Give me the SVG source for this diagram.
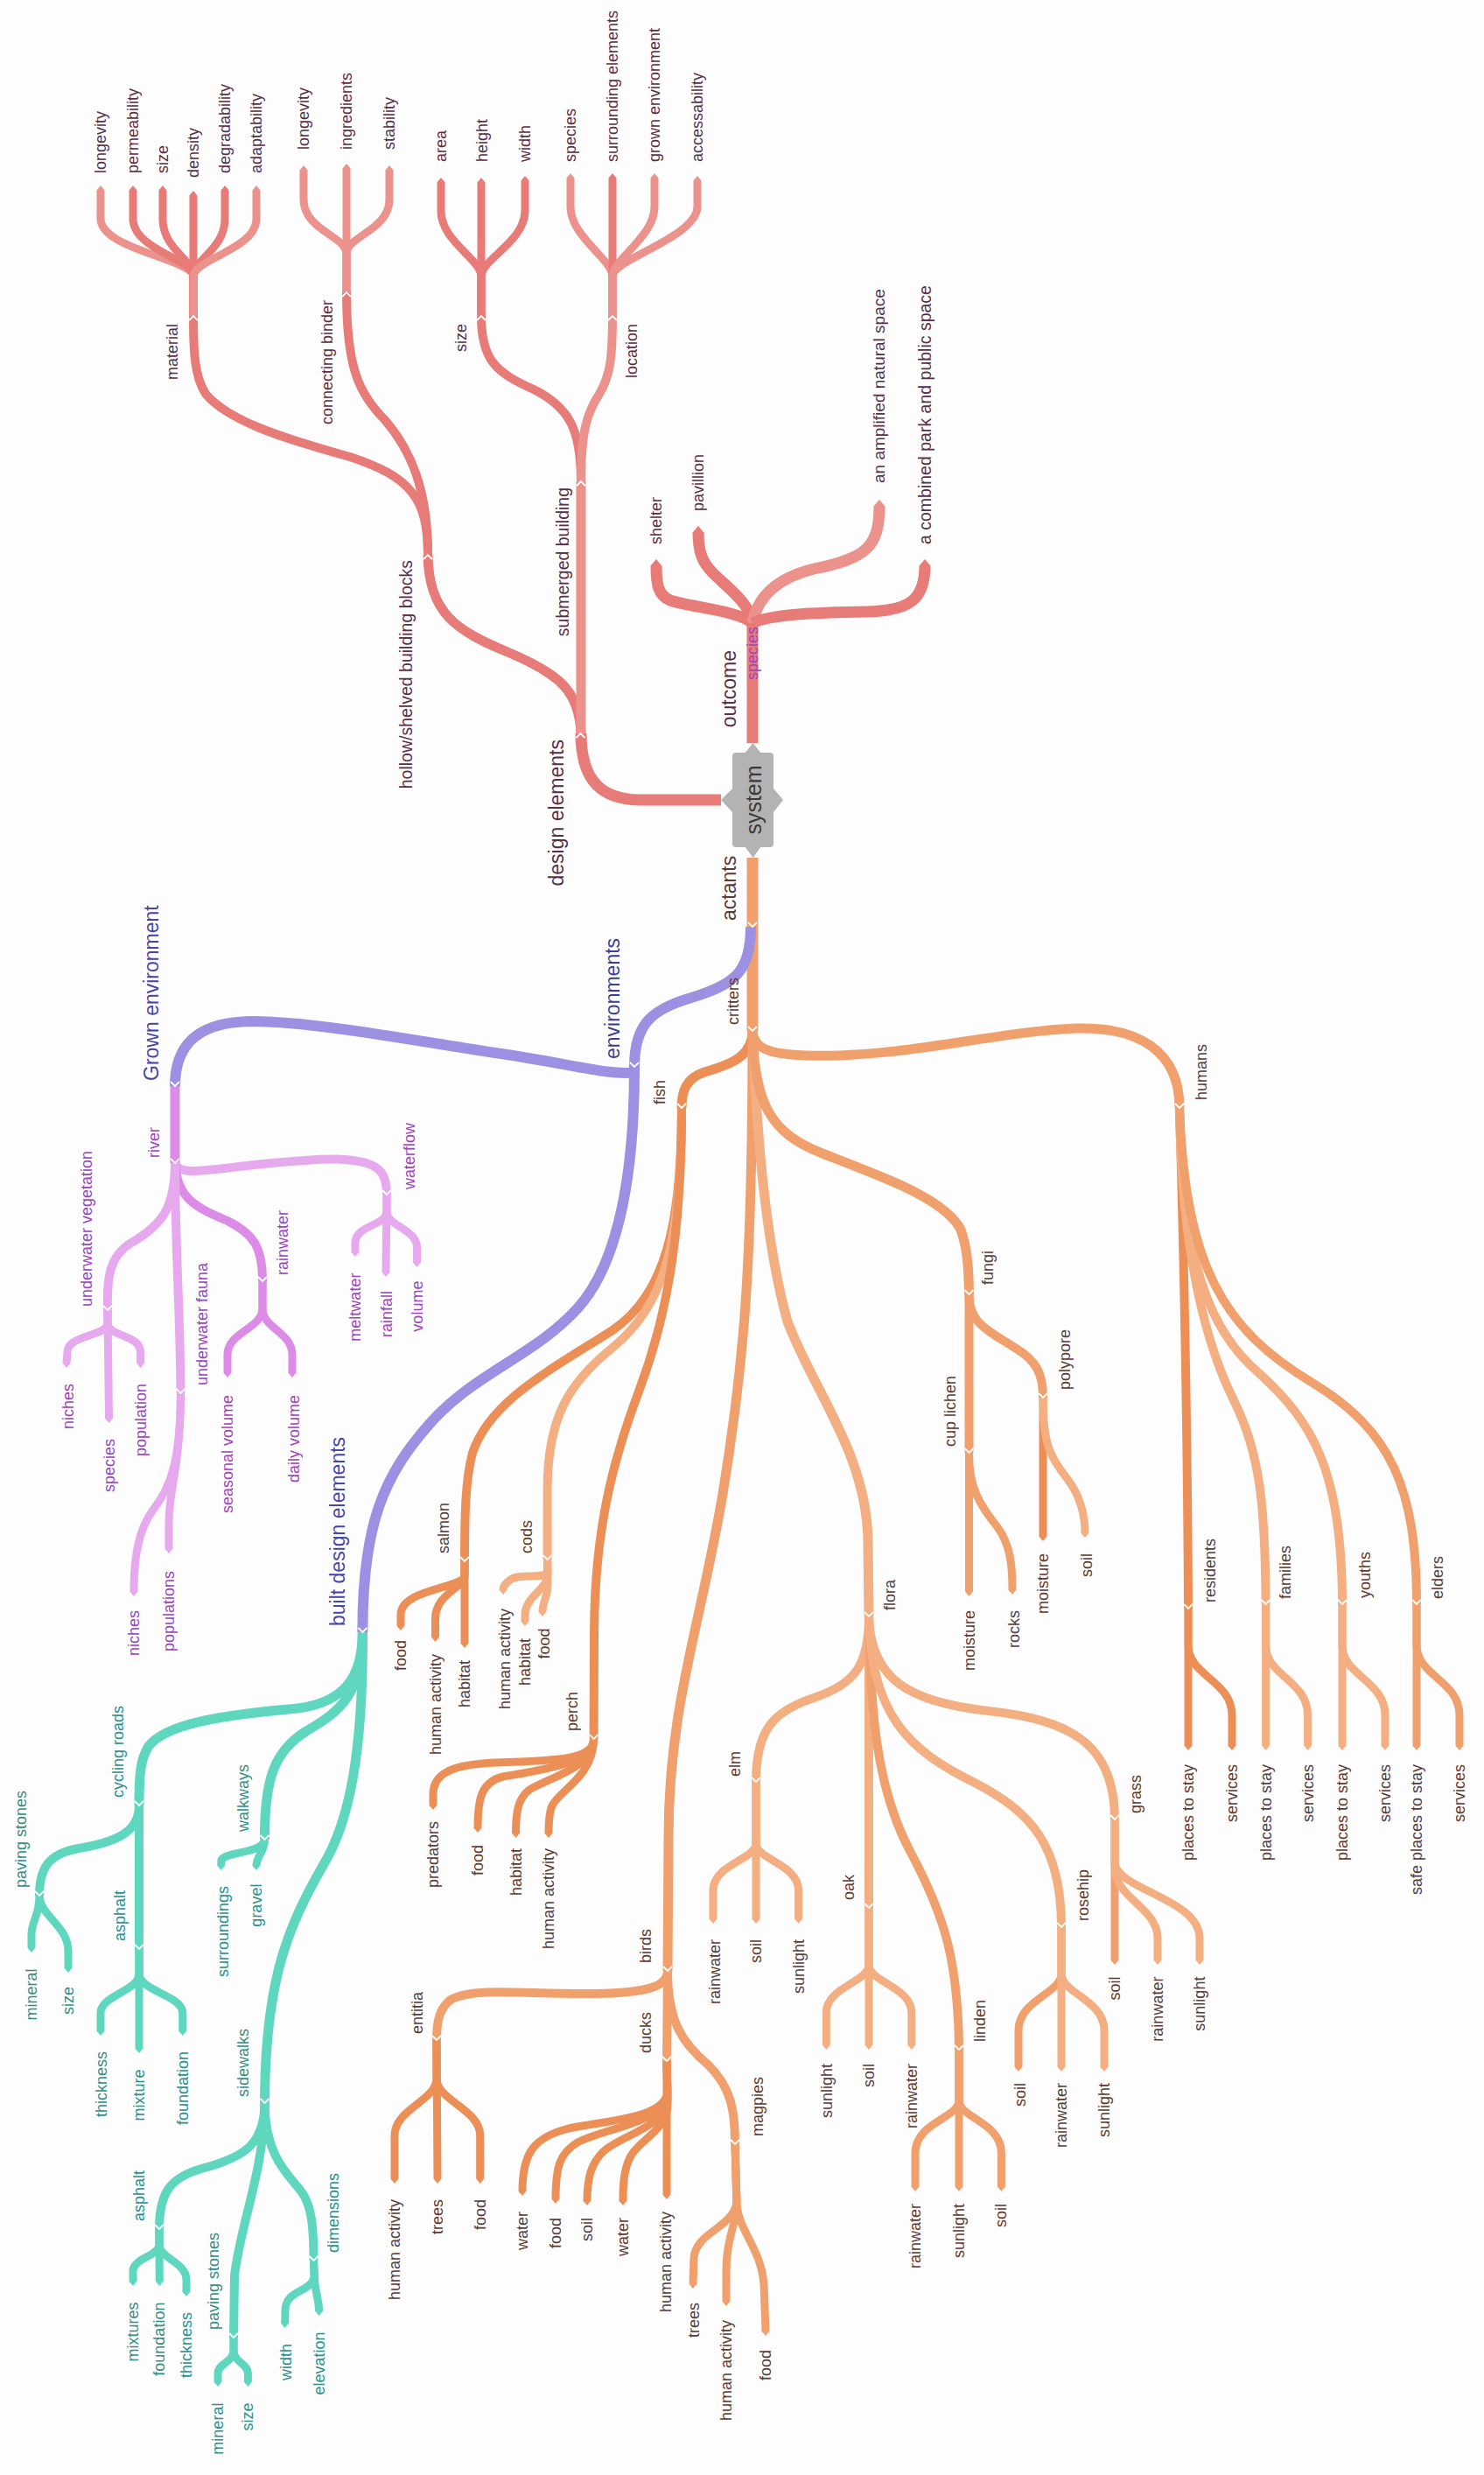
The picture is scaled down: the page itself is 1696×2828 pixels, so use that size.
<svg xmlns="http://www.w3.org/2000/svg" width="1696" height="2828" viewBox="0 0 1696 2828">
<defs>
<marker id="mr1" viewBox="0 -5 6 10" markerWidth="0.6" markerHeight="1" refX="0.5" refY="0" orient="auto"><path d="M0,-5L6,0L0,5Z" fill="#e77b78"/></marker>
<marker id="mr2" viewBox="0 -5 6 10" markerWidth="0.6" markerHeight="1" refX="0.5" refY="0" orient="auto"><path d="M0,-5L6,0L0,5Z" fill="#ec928d"/></marker>
<marker id="mo1" viewBox="0 -5 6 10" markerWidth="0.6" markerHeight="1" refX="0.5" refY="0" orient="auto"><path d="M0,-5L6,0L0,5Z" fill="#eb8f57"/></marker>
<marker id="mo2" viewBox="0 -5 6 10" markerWidth="0.6" markerHeight="1" refX="0.5" refY="0" orient="auto"><path d="M0,-5L6,0L0,5Z" fill="#f0a06c"/></marker>
<marker id="mo3" viewBox="0 -5 6 10" markerWidth="0.6" markerHeight="1" refX="0.5" refY="0" orient="auto"><path d="M0,-5L6,0L0,5Z" fill="#f3ae82"/></marker>
<marker id="mv1" viewBox="0 -5 6 10" markerWidth="0.6" markerHeight="1" refX="0.5" refY="0" orient="auto"><path d="M0,-5L6,0L0,5Z" fill="#dc8ce6"/></marker>
<marker id="mv2" viewBox="0 -5 6 10" markerWidth="0.6" markerHeight="1" refX="0.5" refY="0" orient="auto"><path d="M0,-5L6,0L0,5Z" fill="#e7a9ee"/></marker>
<marker id="mt1" viewBox="0 -5 6 10" markerWidth="0.6" markerHeight="1" refX="0.5" refY="0" orient="auto"><path d="M0,-5L6,0L0,5Z" fill="#5fd7be"/></marker>
</defs>
<style>
.e{fill:none;stroke-linecap:butt;stroke-linejoin:round}
.w13{stroke-width:13}.w12{stroke-width:12}.w11{stroke-width:11}.w10{stroke-width:10}.w9{stroke-width:9}
.r1{stroke:#e77b78}.r2{stroke:#ec928d}.o1{stroke:#eb8f57}.o2{stroke:#f0a06c}.o3{stroke:#f3ae82}
.p1{stroke:#9c90e3}.v1{stroke:#dc8ce6}.v2{stroke:#e7a9ee}.t1{stroke:#5fd7be}
.r1.l{marker-end:url(#mr1)}.r2.l{marker-end:url(#mr2)}.o1.l{marker-end:url(#mo1)}.o2.l{marker-end:url(#mo2)}.o3.l{marker-end:url(#mo3)}
.v1.l{marker-end:url(#mv1)}.v2.l{marker-end:url(#mv2)}.t1.l{marker-end:url(#mt1)}
text{font-family:"Liberation Sans",Arial,sans-serif;font-size:18px;dominant-baseline:central}
.s{text-anchor:start}.n{text-anchor:end}
.big{font-size:23px}.m{font-size:19.5px}
.cr{fill:#5a2f45}.co{fill:#5b3b35}.cv{fill:#9c44bb}.ct{fill:#2f8f88}.cb{fill:#4646a8}.cn{fill:#3f3f92}
.ch{fill:none;stroke:#fff;stroke-width:1.8}
</style>
<rect width="1696" height="2828" fill="#fdfdfd"/>

<g id="connectors">
<!-- red: system upward -->
<path class="e r1 w13" d="M860,849 L860,712"/>
<path class="e r1 w13 l" d="M860,712 C845,698 790,694 766,686 C752,680 750,668 750,646"/>
<path class="e r1 w13 l" d="M860,712 C858,690 830,670 815,655 C802,642 798,630 798,608"/>
<path class="e r2 w13 l" d="M860,712 C866,680 890,660 930,650 C990,638 1005,625 1005,578"/>
<path class="e r1 w13 l" d="M860,712 C880,702 930,700 990,699 C1040,698 1057,685 1057,646"/>
<path class="e r1 w13" d="M824,914 L730,914 C690,913 664,895 664,838"/>
<path class="e r1 w11" d="M664,838 C662,790 640,770 580,745 C520,720 490,700 489,634"/>
<path class="e r2 w11" d="M664,838 L664,550"/>
<path class="e r1 w10" d="M489,634 C489,570 470,545 400,522 C320,500 260,480 235,450 C222,430 221,400 221,361"/>
<path class="e r1 w10" d="M489,634 C489,560 470,515 440,480 C410,450 396,420 396,334"/>
<path class="e r1 w10" d="M664,550 C664,490 650,465 610,445 C565,425 550,410 550,361"/>
<path class="e r2 w10" d="M664,550 C664,490 672,470 685,450 C697,430 700,410 700,361"/>
<path class="e r2 w9 l" d="M221,361 L221,316 C221,296 115,285 115,250 L115,217"/>
<path class="e r1 w9 l" d="M221,361 L221,316 C221,296 152,285 152,250 L152,217"/>
<path class="e r1 w9 l" d="M221,361 L221,316 C221,296 186,285 186,250 L186,217"/>
<path class="e r1 w9 l" d="M221,361 L221,223"/>
<path class="e r1 w9 l" d="M221,361 L221,316 C221,296 257,285 257,250 L257,217"/>
<path class="e r2 w9 l" d="M221,361 L221,316 C221,296 293,285 293,250 L293,217"/>
<path class="e r2 w9 l" d="M396,334 L396,290 C396,270 347,263 347,228 L347,194"/>
<path class="e r2 w9 l" d="M396,334 L396,192"/>
<path class="e r2 w9 l" d="M396,334 L396,290 C396,270 445,263 445,228 L445,194"/>
<path class="e r1 w9 l" d="M550,361 L550,316 C550,296 504,276 504,241 L504,208"/>
<path class="e r1 w9 l" d="M550,361 L550,208"/>
<path class="e r1 w9 l" d="M550,361 L550,316 C550,296 600,276 600,241 L600,206"/>
<path class="e r2 w9 l" d="M700,361 L700,316 C700,296 652,271 652,236 L652,203"/>
<path class="e r1 w9 l" d="M700,361 L700,203"/>
<path class="e r2 w9 l" d="M700,361 L700,316 C700,296 748,271 748,236 L748,203"/>
<path class="e r2 w9 l" d="M700,361 L700,316 C700,296 797,271 797,236 L797,206"/>
<!-- orange trunk -->
<path class="e o2 w13" d="M860,980 L860,1178"/>
<path class="e p1 w12" d="M858,1059 C858,1110 840,1125 790,1140 C745,1153 725,1170 725,1219"/>
<path class="e o1 w11" d="M860,1178 C860,1205 840,1215 805,1225 C785,1232 779,1245 779,1266"/>
<path class="e o2 w11" d="M860,1178 C862,1200 880,1208 960,1206 C1050,1203 1150,1178 1230,1175 C1300,1173 1348,1200 1348,1266"/>
<path class="e o2 w11" d="M860,1178 C860,1450 850,1560 826,1707 C800,1860 764,1950 764,2100 L763,2252"/>
<path class="e o3 w11" d="M860,1178 C865,1300 875,1420 900,1510 C930,1590 990,1660 992,1760 L993,1847"/>
<path class="e o2 w11" d="M860,1178 C862,1260 880,1295 940,1318 C1010,1345 1080,1370 1098,1405 C1105,1425 1107,1445 1107.5,1479"/>
<!-- fish -->
<path class="e o1 w10" d="M779,1266 C779,1400 760,1480 700,1520 C630,1565 560,1600 540,1660 C532,1690 531,1730 531,1784"/>
<path class="e o3 w10" d="M779,1266 C779,1420 760,1490 700,1540 C650,1580 626,1620 625.6,1700 L625.6,1782"/>
<path class="e o1 w10" d="M779,1266 C779,1420 760,1510 730,1590 C700,1670 679,1750 679,1870 L678.6,1987"/>
<path class="e o1 w9 l" d="M531,1784 L531,1800 C531,1815 458,1815 458,1845 L458,1858"/>
<path class="e o1 w9 l" d="M531,1784 L531,1800 C531,1815 497.5,1820 497.5,1850 L497.5,1871"/>
<path class="e o1 w9 l" d="M531,1784 L531,1878"/>
<path class="e o3 w9 l" d="M625.6,1782 L626,1795 C624,1806 592,1796 582,1806 C576,1811 575,1813 575,1817"/>
<path class="e o3 w9 l" d="M625.6,1782 L626,1800 C626,1815 600,1825 600,1845 L600,1853"/>
<path class="e o3 w9 l" d="M625.6,1782 L626,1810 C626,1825 620,1830 620,1842"/>
<path class="e o1 w9 l" d="M678.6,1987 C678,2010 640,2012 566,2014 C520,2016 495,2025 495,2050 L495,2063"/>
<path class="e o1 w9 l" d="M678.6,1987 C678,2015 620,2022 575,2030 C550,2036 546,2055 546,2089"/>
<path class="e o1 w9 l" d="M678.6,1987 C678,2020 630,2030 605,2045 C592,2055 589.5,2070 589.5,2095"/>
<path class="e o1 w9 l" d="M678.6,1987 C678,2030 640,2045 631,2063 C627,2072 627,2085 627,2095"/>
<!-- fungi -->
<path class="e o2 w10" d="M1107.5,1479 L1107.5,1660"/>
<path class="e o2 w10" d="M1107.5,1479 C1107,1510 1125,1518 1160,1540 C1185,1555 1192,1570 1192,1597"/>
<path class="e o2 w9 l" d="M1107.5,1660 L1107.5,1819"/>
<path class="e o2 w9 l" d="M1107.5,1660 C1107,1700 1120,1720 1140,1745 C1155,1765 1157,1790 1157,1817"/>
<path class="e o1 w9 l" d="M1192,1597 L1192,1756"/>
<path class="e o3 w9 l" d="M1192,1597 C1192,1650 1200,1665 1220,1690 C1235,1710 1240,1730 1240,1752"/>
<!-- flora -->
<path class="e o3 w10" d="M993,1847 C993,1905 975,1925 930,1940 C885,1955 864,1975 864,2036"/>
<path class="e o3 w10" d="M993,1847 L993,2180"/>
<path class="e o2 w10" d="M993,1847 C995,1950 1000,2040 1040,2115 C1080,2190 1095,2240 1096,2342"/>
<path class="e o3 w10" d="M993,1847 C995,1960 1040,2000 1110,2035 C1180,2070 1213,2110 1213,2202"/>
<path class="e o3 w10" d="M993,1847 C995,1920 1040,1945 1130,1955 C1220,1965 1274,1990 1274,2079"/>
<path class="e o3 w9 l" d="M864,2036 L864,2106 C864,2125 815,2130 815,2160 L815,2193"/>
<path class="e o3 w9 l" d="M864,2036 L864,2193"/>
<path class="e o3 w9 l" d="M864,2036 L864,2106 C864,2125 912.6,2130 912.6,2160 L912.6,2193"/>
<path class="e o3 w9 l" d="M993,2180 L993,2245 C993,2265 944.3,2270 944.3,2300 L944.3,2337"/>
<path class="e o3 w9 l" d="M993,2180 L993,2337"/>
<path class="e o3 w9 l" d="M993,2180 L993,2245 C993,2265 1041.8,2270 1041.8,2300 L1041.8,2337"/>
<path class="e o2 w9 l" d="M1096,2342 L1096,2400 C1096,2420 1046,2425 1046,2460 L1046,2499"/>
<path class="e o2 w9 l" d="M1096,2342 L1096,2499"/>
<path class="e o2 w9 l" d="M1096,2342 L1096,2400 C1096,2420 1144.4,2425 1144.4,2460 L1144.4,2499"/>
<path class="e o2 w9 l" d="M1213,2202 L1213,2255 C1213,2278 1164,2285 1164,2320 L1164,2362"/>
<path class="e o3 w9 l" d="M1213,2202 L1213,2362"/>
<path class="e o3 w9 l" d="M1213,2202 L1213,2255 C1213,2278 1262,2285 1262,2320 L1262,2362"/>
<path class="e o2 w9 l" d="M1274,2079 L1274,2240"/>
<path class="e o3 w9 l" d="M1274,2079 L1274,2135 C1276,2170 1323,2180 1323,2215 L1323,2240"/>
<path class="e o3 w9 l" d="M1274,2079 L1274,2130 C1280,2160 1371,2170 1371,2215 L1371,2240"/>
<!-- humans -->
<path class="e o1 w10" d="M1348,1266 C1352,1400 1357,1600 1358,1838"/>
<path class="e o3 w10" d="M1348,1266 C1350,1420 1375,1530 1410,1600 C1440,1660 1446,1720 1446.6,1833"/>
<path class="e o3 w10" d="M1348,1266 C1352,1440 1380,1520 1440,1570 C1500,1625 1534,1680 1534,1833"/>
<path class="e o2 w10" d="M1348,1266 C1355,1450 1400,1520 1500,1580 C1590,1635 1619,1700 1619,1833"/>
<path class="e o1 w9 l" d="M1358,1838 L1358,1995"/>
<path class="e o1 w9 l" d="M1358,1838 L1358,1880 C1358,1915 1408,1920 1408,1960 L1408,1995"/>
<path class="e o3 w9 l" d="M1446.6,1833 L1446.6,1995"/>
<path class="e o3 w9 l" d="M1446.6,1833 L1446.6,1880 C1446.6,1915 1494.6,1920 1494.6,1960 L1494.6,1995"/>
<path class="e o3 w9 l" d="M1534,1833 L1534,1995"/>
<path class="e o3 w9 l" d="M1534,1833 L1534,1880 C1534,1915 1583,1920 1583,1960 L1583,1995"/>
<path class="e o2 w9 l" d="M1619,1833 L1619,1995"/>
<path class="e o2 w9 l" d="M1619,1833 L1619,1880 C1619,1915 1668,1920 1668,1960 L1668,1995"/>
<!-- birds -->
<path class="e o2 w10" d="M763,2252 C763,2270 740,2277 680,2278 C600,2279 540,2270 515,2285 C502,2295 499,2310 499,2331"/>
<path class="e o2 w10" d="M763,2252 L762,2355"/>
<path class="e o2 w10" d="M763,2252 C763,2310 780,2335 810,2360 C835,2385 840,2410 840,2450"/>
<path class="e o1 w9 l" d="M499,2331 L499,2375 C499,2400 451,2410 451,2440 L451,2490"/>
<path class="e o1 w9 l" d="M499,2331 L500,2490"/>
<path class="e o1 w9 l" d="M499,2331 L499,2375 C499,2400 548.7,2410 548.7,2440 L548.7,2490"/>
<path class="e o1 w9 l" d="M762,2355 L763,2390 C760,2420 700,2422 650,2432 C610,2442 597,2460 597,2504"/>
<path class="e o1 w9 l" d="M762,2355 L763,2395 C758,2425 690,2432 660,2448 C640,2460 635,2475 635,2513"/>
<path class="e o1 w9 l" d="M762,2355 L763,2400 C760,2430 710,2440 690,2458 C675,2472 671,2490 671,2515"/>
<path class="e o1 w9 l" d="M762,2355 L763,2405 C762,2435 730,2445 720,2465 C713,2480 712,2495 712,2515"/>
<path class="e o1 w9 l" d="M762,2355 L762,2508"/>
<path class="e o2 w9 l" d="M840,2450 L842,2515 C840,2545 795,2550 793,2580 L792,2610"/>
<path class="e o2 w9 l" d="M840,2450 L842,2520 C840,2545 830,2560 830,2595 L830,2630"/>
<path class="e o2 w9 l" d="M840,2450 L842,2520 C845,2550 870,2570 873,2610 L875,2664"/>
<!-- environments -->
<path class="e p1 w12" d="M725,1225 C700,1230 650,1215 566,1203 C450,1185 360,1168 290,1167 C230,1167 200,1190 200,1241"/>
<path class="e p1 w12" d="M725,1219 C725,1330 710,1440 660,1495 C610,1550 540,1570 490,1628 C440,1685 414,1740 414.4,1865"/>
<path class="e v1 w11" d="M200,1241 L200,1329"/>
<path class="e v2 w10" d="M200,1329 C205,1345 240,1336 300,1330 C360,1324 420,1318 436,1340 C441,1347 442,1355 442,1365"/>
<path class="e v1 w10" d="M200,1329 C202,1370 225,1380 260,1395 C290,1410 300,1425 300,1464"/>
<path class="e v2 w10" d="M200,1329 C200,1420 206,1500 206.5,1592"/>
<path class="e v2 w10" d="M200,1329 C200,1380 185,1400 150,1420 C125,1435 122,1460 123,1497"/>
<path class="e v2 w9 l" d="M442,1365 L442,1385 C442,1400 406,1400 406,1420 L406,1431"/>
<path class="e v2 w9 l" d="M442,1365 L441,1454"/>
<path class="e v2 w9 l" d="M442,1365 L442,1385 C442,1400 476.5,1405 476.5,1425 L476.5,1443"/>
<path class="e v1 w9 l" d="M300,1464 L300,1495 C300,1518 260,1522 260,1548 L260,1569"/>
<path class="e v1 w9 l" d="M300,1464 L300,1495 C300,1518 334,1522 334,1548 L334,1569"/>
<path class="e v2 w9 l" d="M206.5,1592 C206,1680 193,1700 193,1740 L193,1770"/>
<path class="e v2 w9 l" d="M206.5,1592 C206,1670 195,1700 175,1725 C158,1748 153,1780 153,1819"/>
<path class="e v2 w9 l" d="M123,1497 L123,1512 C123,1527 77,1525 77,1545 L76,1558"/>
<path class="e v2 w9 l" d="M123,1497 L124.5,1621"/>
<path class="e v2 w9 l" d="M123,1497 L123,1512 C123,1527 160.6,1525 160.6,1545 L160.6,1558"/>
<!-- built -->
<path class="e t1 w11" d="M414.4,1865 C414,1915 395,1945 340,1952 C250,1960 190,1970 170,1995 C160,2010 159,2030 159,2063"/>
<path class="e t1 w11" d="M414.4,1865 C414,1935 390,1955 350,1978 C315,2000 302,2030 302.5,2102"/>
<path class="e t1 w11" d="M414.4,1865 C415,2000 400,2080 370,2130 C330,2200 303,2260 302.5,2403"/>
<path class="e t1 w10" d="M159,2063 C159,2095 130,2105 90,2112 C55,2118 45,2135 45,2166"/>
<path class="e t1 w10" d="M159,2063 L159,2227"/>
<path class="e t1 w9 l" d="M45,2166 C45,2190 36,2195 36,2210 L36,2226"/>
<path class="e t1 w9 l" d="M45,2166 C46,2190 78,2200 78,2230 L78,2249"/>
<path class="e t1 w9 l" d="M159,2227 L159,2255 C159,2275 115,2280 115,2300 L115,2321"/>
<path class="e t1 w9 l" d="M159,2227 L159,2341"/>
<path class="e t1 w9 l" d="M159,2227 L159,2255 C159,2275 208.7,2280 208.7,2300 L208.7,2321"/>
<path class="e t1 w9 l" d="M302.5,2102 C300,2118 260,2115 253,2125 L252.7,2132"/>
<path class="e t1 w9 l" d="M302.5,2102 C302,2118 293,2120 293,2132"/>
<path class="e t1 w10" d="M302.5,2403 C302,2450 280,2465 230,2478 C195,2488 182,2505 182,2547"/>
<path class="e t1 w10" d="M302.5,2403 C302,2480 275,2540 268,2600 L267,2671"/>
<path class="e t1 w10" d="M302.5,2403 C303,2465 330,2485 345,2505 C356,2520 358.5,2545 358.5,2583"/>
<path class="e t1 w9 l" d="M182,2547 L182,2565 C182,2578 152,2580 152,2595 L152,2607"/>
<path class="e t1 w9 l" d="M182,2547 L182.3,2607"/>
<path class="e t1 w9 l" d="M182,2547 L182,2565 C182,2580 213,2585 213,2605 L213,2619"/>
<path class="e t1 w9 l" d="M267,2671 L267,2685 C267,2700 249,2700 249,2712 L249,2722"/>
<path class="e t1 w9 l" d="M267,2671 L267,2685 C267,2700 283.4,2700 283.4,2712 L283.4,2722"/>
<path class="e t1 w9 l" d="M358.5,2583 L359,2600 C358,2620 326,2615 326,2640 L325.6,2655"/>
<path class="e t1 w9 l" d="M358.5,2583 L360,2610 C362,2625 364.6,2630 364.6,2641"/>
</g>

<g id="n-system">
<path d="M851,861 L860.6,849 L870,861 Z M837,901 L824,914 L837,928 Z M884,901 L895,914 L884,928 Z M851,967 L860.6,980 L870,967 Z" fill="#b3b3b3"/>
<rect x="837" y="860" width="47" height="108" rx="4" fill="#b3b3b3"/>
<text transform="translate(860.6,914) rotate(-90)" style="font-size:25px;fill:#3a3a3a;text-anchor:middle">system</text>
</g>

<!-- red nodes -->
<g id="n-outcome"><text class="cr big n" transform="translate(833,743) rotate(-90)">outcome</text><text class="cv n" transform="translate(860,716) rotate(-90)">species</text></g>
<g id="n-shelter"><text class="cr s" transform="translate(750,622) rotate(-90)">shelter</text></g>
<g id="n-pavillion"><text class="cr s" transform="translate(798,584) rotate(-90)">pavillion</text></g>
<g id="n-amplified"><text class="cr s" style="font-size:19px" transform="translate(1004.6,552) rotate(-90)">an amplified natural space</text></g>
<g id="n-combined"><text class="cr s" style="font-size:19.5px" transform="translate(1057,622) rotate(-90)">a combined park and public space</text></g>
<g id="n-design"><path class="ch" d="M658.5,843 L663.5,838 L668.5,843"/><text class="cr big n" transform="translate(636,845) rotate(-90)">design elements</text></g>
<g id="n-hollow"><path class="ch" d="M484,639 L489,634 L494,639"/><text class="cr m n" transform="translate(464,640) rotate(-90)">hollow/shelved building blocks</text></g>
<g id="n-submerged"><path class="ch" d="M659,555 L664,550 L669,555"/><text class="cr m n" transform="translate(643,557) rotate(-90)">submerged building</text></g>
<g id="n-material"><path class="ch" d="M216,366 L221,361 L226,366"/><text class="cr n" transform="translate(197,370) rotate(-90)">material</text></g>
<g id="n-binder"><path class="ch" d="M391,339 L396,334 L401,339"/><text class="cr n" transform="translate(374,343) rotate(-90)">connecting binder</text></g>
<g id="n-size"><path class="ch" d="M545,366 L550,361 L555,366"/><text class="cr n" transform="translate(527,370) rotate(-90)">size</text></g>
<g id="n-location"><path class="ch" d="M695,366 L700,361 L705,366"/><text class="cr n" transform="translate(722,370) rotate(-90)">location</text></g>
<g id="n-m-longevity"><text class="cr s" transform="translate(114.8,198) rotate(-90)">longevity</text></g>
<g id="n-m-permeability"><text class="cr s" transform="translate(151.6,198) rotate(-90)">permeability</text></g>
<g id="n-m-size"><text class="cr s" transform="translate(186,198) rotate(-90)">size</text></g>
<g id="n-m-density"><text class="cr s" transform="translate(221,203) rotate(-90)">density</text></g>
<g id="n-m-degradability"><text class="cr s" transform="translate(257,198) rotate(-90)">degradability</text></g>
<g id="n-m-adaptability"><text class="cr s" transform="translate(293,198) rotate(-90)">adaptability</text></g>
<g id="n-b-longevity"><text class="cr s" transform="translate(346.6,171) rotate(-90)">longevity</text></g>
<g id="n-b-ingredients"><text class="cr s" transform="translate(396,171) rotate(-90)">ingredients</text></g>
<g id="n-b-stability"><text class="cr s" transform="translate(444.8,171) rotate(-90)">stability</text></g>
<g id="n-s-area"><text class="cr s" transform="translate(503.6,185) rotate(-90)">area</text></g>
<g id="n-s-height"><text class="cr s" transform="translate(550.5,185) rotate(-90)">height</text></g>
<g id="n-s-width"><text class="cr s" transform="translate(600.3,185) rotate(-90)">width</text></g>
<g id="n-l-species"><text class="cr s" transform="translate(651.6,185) rotate(-90)">species</text></g>
<g id="n-l-surrounding"><text class="cr s" transform="translate(700,185) rotate(-90)">surrounding elements</text></g>
<g id="n-l-grown"><text class="cr s" transform="translate(748.3,185) rotate(-90)">grown environment</text></g>
<g id="n-l-access"><text class="cr s" transform="translate(797,185) rotate(-90)">accessability</text></g>

<!-- orange nodes -->
<g id="n-actants"><path class="ch" d="M855,1054 L860,1059 L865,1054"/><text class="co big s" transform="translate(833,1052) rotate(-90)">actants</text></g>
<g id="n-critters"><path class="ch" d="M855,1173 L860,1178 L865,1173"/><text class="co s" transform="translate(837.5,1171) rotate(-90)">critters</text></g>
<g id="n-fish"><path class="ch" d="M774,1261 L779,1266 L784,1261"/><text class="co s" transform="translate(754,1262) rotate(-90)">fish</text></g>
<g id="n-humans"><path class="ch" d="M1343,1261 L1348,1266 L1353,1261"/><text class="co s" transform="translate(1372.6,1257) rotate(-90)">humans</text></g>
<g id="n-birds"><path class="ch" d="M758,2247 L763,2252 L768,2247"/><text class="co s" transform="translate(737.5,2243) rotate(-90)">birds</text></g>
<g id="n-flora"><path class="ch" d="M988,1842 L993,1847 L998,1842"/><text class="co s" transform="translate(1017,1840) rotate(-90)">flora</text></g>
<g id="n-fungi"><path class="ch" d="M1102.5,1474 L1107.5,1479 L1112.5,1474"/><text class="co s" transform="translate(1129,1468) rotate(-90)">fungi</text></g>
<g id="n-salmon"><path class="ch" d="M526,1779 L531,1784 L536,1779"/><text class="co s" transform="translate(506.5,1775) rotate(-90)">salmon</text></g>
<g id="n-cods"><path class="ch" d="M620.6,1777 L625.6,1782 L630.6,1777"/><text class="co s" transform="translate(602,1775) rotate(-90)">cods</text></g>
<g id="n-perch"><path class="ch" d="M673.6,1982 L678.6,1987 L683.6,1982"/><text class="co s" transform="translate(654,1978) rotate(-90)">perch</text></g>
<g id="n-cuplichen"><path class="ch" d="M1102.5,1655 L1107.5,1660 L1112.5,1655"/><text class="co s" transform="translate(1086,1653) rotate(-90)">cup lichen</text></g>
<g id="n-polypore"><path class="ch" d="M1187,1592 L1192,1597 L1197,1592"/><text class="co s" transform="translate(1216.6,1588) rotate(-90)">polypore</text></g>
<g id="n-elm"><path class="ch" d="M859,2031 L864,2036 L869,2031"/><text class="co s" transform="translate(840,2030) rotate(-90)">elm</text></g>
<g id="n-oak"><path class="ch" d="M988,2175 L993,2180 L998,2175"/><text class="co s" transform="translate(970,2171) rotate(-90)">oak</text></g>
<g id="n-linden"><path class="ch" d="M1091,2337 L1096,2342 L1101,2337"/><text class="co s" transform="translate(1120,2333) rotate(-90)">linden</text></g>
<g id="n-rosehip"><path class="ch" d="M1208,2197 L1213,2202 L1218,2197"/><text class="co s" transform="translate(1238,2195) rotate(-90)">rosehip</text></g>
<g id="n-grass"><path class="ch" d="M1269,2074 L1274,2079 L1279,2074"/><text class="co s" transform="translate(1298,2072) rotate(-90)">grass</text></g>
<g id="n-residents"><path class="ch" d="M1353,1833 L1358,1838 L1363,1833"/><text class="co s" transform="translate(1382.7,1831) rotate(-90)">residents</text></g>
<g id="n-families"><path class="ch" d="M1441.6,1828 L1446.6,1833 L1451.6,1828"/><text class="co s" transform="translate(1469,1827) rotate(-90)">families</text></g>
<g id="n-youths"><path class="ch" d="M1529,1828 L1534,1833 L1539,1828"/><text class="co s" transform="translate(1559.6,1826) rotate(-90)">youths</text></g>
<g id="n-elders"><path class="ch" d="M1614,1828 L1619,1833 L1624,1828"/><text class="co s" transform="translate(1642.6,1827) rotate(-90)">elders</text></g>
<g id="n-entitia"><path class="ch" d="M494,2326 L499,2331 L504,2326"/><text class="co s" transform="translate(476.5,2324) rotate(-90)">entitia</text></g>
<g id="n-ducks"><path class="ch" d="M757,2350 L762,2355 L767,2350"/><text class="co s" transform="translate(737.5,2346) rotate(-90)">ducks</text></g>
<g id="n-magpies"><path class="ch" d="M835,2445 L840,2450 L845,2445"/><text class="co s" transform="translate(865.6,2441) rotate(-90)">magpies</text></g>
<g id="n-sa-food"><text class="co n" transform="translate(457.7,1874) rotate(-90)">food</text></g>
<g id="n-sa-human"><text class="co n" transform="translate(497.5,1890) rotate(-90)">human activity</text></g>
<g id="n-sa-habitat"><text class="co n" transform="translate(530.7,1897) rotate(-90)">habitat</text></g>
<g id="n-co-human"><text class="co n" transform="translate(577,1838) rotate(-90)">human activity</text></g>
<g id="n-co-habitat"><text class="co n" transform="translate(600,1872) rotate(-90)">habitat</text></g>
<g id="n-co-food"><text class="co n" transform="translate(622,1860.5) rotate(-90)">food</text></g>
<g id="n-pe-predators"><text class="co n" transform="translate(494.6,2081) rotate(-90)">predators</text></g>
<g id="n-pe-food"><text class="co n" transform="translate(546,2108) rotate(-90)">food</text></g>
<g id="n-pe-habitat"><text class="co n" transform="translate(589.5,2112) rotate(-90)">habitat</text></g>
<g id="n-pe-human"><text class="co n" transform="translate(627,2112) rotate(-90)">human activity</text></g>
<g id="n-cl-moisture"><text class="co n" transform="translate(1107.5,1840) rotate(-90)">moisture</text></g>
<g id="n-cl-rocks"><text class="co n" transform="translate(1159,1840) rotate(-90)">rocks</text></g>
<g id="n-po-moisture"><text class="co n" transform="translate(1192,1775) rotate(-90)">moisture</text></g>
<g id="n-po-soil"><text class="co n" transform="translate(1242,1775) rotate(-90)">soil</text></g>
<g id="n-elm-rain"><text class="co n" transform="translate(817,2216) rotate(-90)">rainwater</text></g>
<g id="n-elm-soil"><text class="co n" transform="translate(864,2216) rotate(-90)">soil</text></g>
<g id="n-elm-sun"><text class="co n" transform="translate(912.6,2216) rotate(-90)">sunlight</text></g>
<g id="n-oak-sun"><text class="co n" transform="translate(945,2358) rotate(-90)">sunlight</text></g>
<g id="n-oak-soil"><text class="co n" transform="translate(993,2358) rotate(-90)">soil</text></g>
<g id="n-oak-rain"><text class="co n" transform="translate(1042,2358) rotate(-90)">rainwater</text></g>
<g id="n-li-rain"><text class="co n" transform="translate(1046,2518) rotate(-90)">rainwater</text></g>
<g id="n-li-sun"><text class="co n" transform="translate(1095.6,2518) rotate(-90)">sunlight</text></g>
<g id="n-li-soil"><text class="co n" transform="translate(1144.4,2518) rotate(-90)">soil</text></g>
<g id="n-ro-soil"><text class="co n" transform="translate(1166,2380) rotate(-90)">soil</text></g>
<g id="n-ro-rain"><text class="co n" transform="translate(1213,2380) rotate(-90)">rainwater</text></g>
<g id="n-ro-sun"><text class="co n" transform="translate(1262,2380) rotate(-90)">sunlight</text></g>
<g id="n-gr-soil"><text class="co n" transform="translate(1274.4,2258.6) rotate(-90)">soil</text></g>
<g id="n-gr-rain"><text class="co n" transform="translate(1323,2258.6) rotate(-90)">rainwater</text></g>
<g id="n-gr-sun"><text class="co n" transform="translate(1371,2258.6) rotate(-90)">sunlight</text></g>
<g id="n-re-places"><text class="co n" transform="translate(1358,2016) rotate(-90)">places to stay</text></g>
<g id="n-re-services"><text class="co n" transform="translate(1408,2016) rotate(-90)">services</text></g>
<g id="n-fa-places"><text class="co n" transform="translate(1446.6,2016) rotate(-90)">places to stay</text></g>
<g id="n-fa-services"><text class="co n" transform="translate(1494.6,2016) rotate(-90)">services</text></g>
<g id="n-yo-places"><text class="co n" transform="translate(1534,2016) rotate(-90)">places to stay</text></g>
<g id="n-yo-services"><text class="co n" transform="translate(1583,2016) rotate(-90)">services</text></g>
<g id="n-el-places"><text class="co n" transform="translate(1619,2016) rotate(-90)">safe places to stay</text></g>
<g id="n-el-services"><text class="co n" transform="translate(1668,2016) rotate(-90)">services</text></g>
<g id="n-en-human"><text class="co n" transform="translate(451,2513) rotate(-90)">human activity</text></g>
<g id="n-en-trees"><text class="co n" transform="translate(500,2513) rotate(-90)">trees</text></g>
<g id="n-en-food"><text class="co n" transform="translate(548.7,2513) rotate(-90)">food</text></g>
<g id="n-du-water1"><text class="co n" transform="translate(597,2527) rotate(-90)">water</text></g>
<g id="n-du-food"><text class="co n" transform="translate(635,2534) rotate(-90)">food</text></g>
<g id="n-du-soil"><text class="co n" transform="translate(671,2534) rotate(-90)">soil</text></g>
<g id="n-du-water2"><text class="co n" transform="translate(712,2534) rotate(-90)">water</text></g>
<g id="n-du-human"><text class="co n" transform="translate(761,2527) rotate(-90)">human activity</text></g>
<g id="n-ma-trees"><text class="co n" transform="translate(793,2631) rotate(-90)">trees</text></g>
<g id="n-ma-human"><text class="co n" transform="translate(829.5,2651) rotate(-90)">human activity</text></g>
<g id="n-ma-food"><text class="co n" transform="translate(874.6,2685) rotate(-90)">food</text></g>

<!-- purple nodes -->
<g id="n-environments"><path class="ch" d="M720,1214 L725,1219 L730,1214"/><text class="cn big s" transform="translate(700,1210) rotate(-90)">environments</text></g>
<g id="n-grown"><path class="ch" d="M195,1236 L200,1241 L205,1236"/><text class="cb big s" transform="translate(172.6,1235) rotate(-90)">Grown environment</text></g>
<g id="n-built"><path class="ch" d="M409.4,1860 L414.4,1865 L419.4,1860"/><text class="cb big s" transform="translate(386,1858) rotate(-90)">built design elements</text></g>
<g id="n-river"><path class="ch" d="M195,1324 L200,1329 L205,1324"/><text class="cv s" transform="translate(176,1323) rotate(-90)">river</text></g>
<g id="n-waterflow"><path class="ch" d="M437,1360 L442,1365 L447,1360"/><text class="cv s" transform="translate(467.5,1359) rotate(-90)">waterflow</text></g>
<g id="n-rainwater"><path class="ch" d="M295,1459 L300,1464 L305,1459"/><text class="cv s" transform="translate(323,1457) rotate(-90)">rainwater</text></g>
<g id="n-ufauna"><path class="ch" d="M201.5,1587 L206.5,1592 L211.5,1587"/><text class="cv s" transform="translate(231,1583) rotate(-90)">underwater fauna</text></g>
<g id="n-uveg"><path class="ch" d="M118,1492 L123,1497 L128,1492"/><text class="cv s" transform="translate(99,1493) rotate(-90)">underwater vegetation</text></g>
<g id="n-wf-melt"><text class="cv n" transform="translate(406,1454.6) rotate(-90)">meltwater</text></g>
<g id="n-wf-rain"><text class="cv n" transform="translate(442,1475) rotate(-90)">rainfall</text></g>
<g id="n-wf-vol"><text class="cv n" transform="translate(476.5,1463.6) rotate(-90)">volume</text></g>
<g id="n-rw-seasonal"><text class="cv n" transform="translate(260,1594) rotate(-90)">seasonal volume</text></g>
<g id="n-rw-daily"><text class="cv n" transform="translate(335.7,1594) rotate(-90)">daily volume</text></g>
<g id="n-uf-niches"><text class="cv n" transform="translate(153,1840) rotate(-90)">niches</text></g>
<g id="n-uf-pop"><text class="cv n" transform="translate(193,1795) rotate(-90)">populations</text></g>
<g id="n-uv-niches"><text class="cv n" transform="translate(77.6,1581) rotate(-90)">niches</text></g>
<g id="n-uv-species"><text class="cv n" transform="translate(124.5,1644) rotate(-90)">species</text></g>
<g id="n-uv-pop"><text class="cv n" transform="translate(160.6,1581) rotate(-90)">population</text></g>

<!-- teal nodes -->
<g id="n-cycling"><path class="ch" d="M154,2058 L159,2063 L164,2058"/><text class="ct s" transform="translate(135,2054) rotate(-90)">cycling roads</text></g>
<g id="n-walkways"><path class="ch" d="M297.5,2097 L302.5,2102 L307.5,2097"/><text class="ct s" transform="translate(278,2093) rotate(-90)">walkways</text></g>
<g id="n-sidewalks"><path class="ch" d="M297.5,2398 L302.5,2403 L307.5,2398"/><text class="ct s" transform="translate(278,2396) rotate(-90)">sidewalks</text></g>
<g id="n-cr-paving"><path class="ch" d="M40,2161 L45,2166 L50,2161"/><text class="ct s" transform="translate(23.5,2157) rotate(-90)">paving stones</text></g>
<g id="n-cr-asphalt"><path class="ch" d="M154,2222 L159,2227 L164,2222"/><text class="ct s" transform="translate(137,2218) rotate(-90)">asphalt</text></g>
<g id="n-sw-asphalt"><path class="ch" d="M177,2542 L182,2547 L187,2542"/><text class="ct s" transform="translate(159,2538) rotate(-90)">asphalt</text></g>
<g id="n-sw-paving"><path class="ch" d="M262,2666 L267,2671 L272,2666"/><text class="ct s" transform="translate(244.4,2662) rotate(-90)">paving stones</text></g>
<g id="n-dimensions"><path class="ch" d="M353.5,2578 L358.5,2583 L363.5,2578"/><text class="ct s" transform="translate(381,2574) rotate(-90)">dimensions</text></g>
<g id="n-ps-mineral"><text class="ct n" transform="translate(36,2249.5) rotate(-90)">mineral</text></g>
<g id="n-ps-size"><text class="ct n" transform="translate(77.6,2270) rotate(-90)">size</text></g>
<g id="n-as-thick"><text class="ct n" transform="translate(115.5,2344) rotate(-90)">thickness</text></g>
<g id="n-as-mix"><text class="ct n" transform="translate(159,2364.5) rotate(-90)">mixture</text></g>
<g id="n-as-found"><text class="ct n" transform="translate(208.7,2344) rotate(-90)">foundation</text></g>
<g id="n-wk-surr"><text class="ct n" transform="translate(254.5,2155) rotate(-90)">surroundings</text></g>
<g id="n-wk-gravel"><text class="ct n" transform="translate(293,2152.6) rotate(-90)">gravel</text></g>
<g id="n-as2-mix"><text class="ct n" transform="translate(152,2630.6) rotate(-90)">mixtures</text></g>
<g id="n-as2-found"><text class="ct n" transform="translate(182.3,2630.6) rotate(-90)">foundation</text></g>
<g id="n-as2-thick"><text class="ct n" transform="translate(213,2642) rotate(-90)">thickness</text></g>
<g id="n-ps2-mineral"><text class="ct n" transform="translate(249,2745.6) rotate(-90)">mineral</text></g>
<g id="n-ps2-size"><text class="ct n" transform="translate(283.4,2745.6) rotate(-90)">size</text></g>
<g id="n-di-width"><text class="ct n" transform="translate(326.7,2678) rotate(-90)">width</text></g>
<g id="n-di-elev"><text class="ct n" transform="translate(364.6,2664.5) rotate(-90)">elevation</text></g>
</svg>
